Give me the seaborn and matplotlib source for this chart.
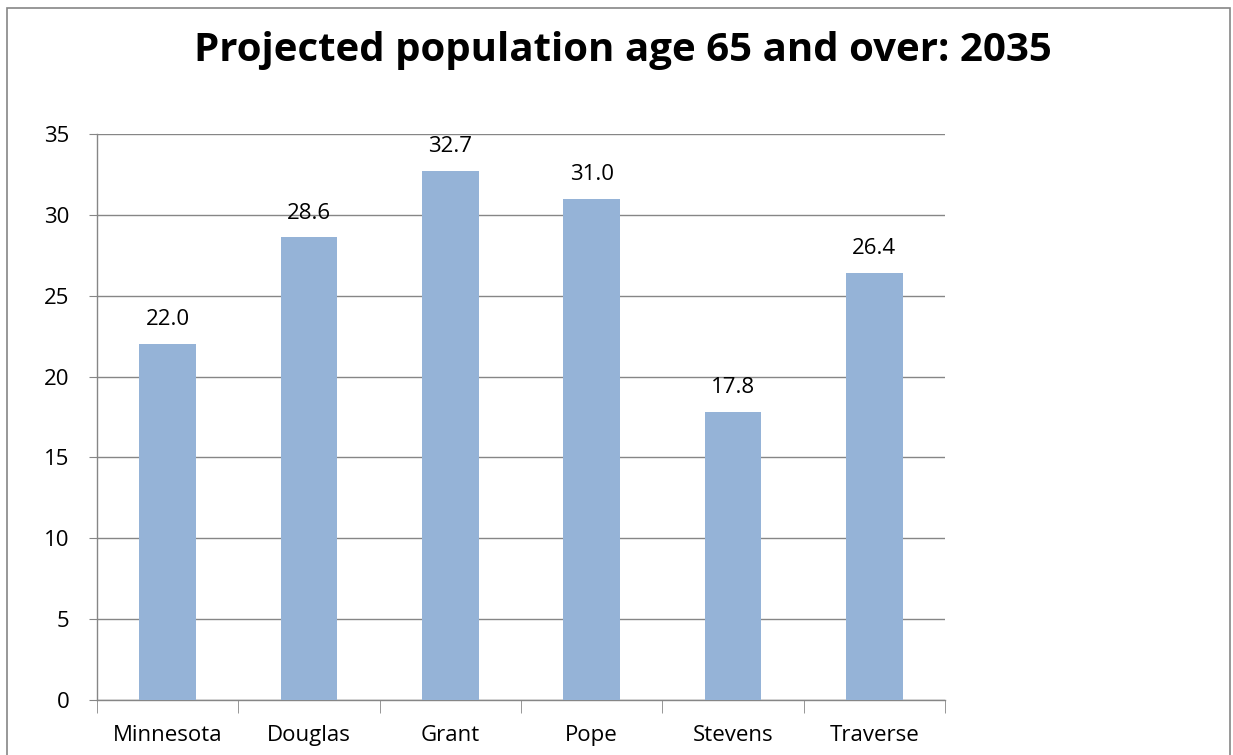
import numpy as np
import pandas as pd
import matplotlib.pyplot as plt
import seaborn as sns
from matplotlib.patches import Rectangle

# === Datos ===
regiones = ["Minnesota", "Douglas", "Grant", "Pope", "Stevens", "Traverse"]
valores = [22.0, 28.6, 32.7, 31.0, 17.8, 26.4]
titulo = "Projected population age 65 and over: 2035"

df = pd.DataFrame({"region": regiones, "valor": valores})

sns.set_style("white")
plt.rcParams["font.family"] = ["Open Sans", "DejaVu Sans"]
plt.rcParams["text.color"] = "black"
plt.rcParams["xtick.color"] = "black"
plt.rcParams["ytick.color"] = "black"

fig = plt.figure(figsize=(12.33, 7.55), dpi=100)
ax = fig.add_axes([97 / 1233, 1 - 700 / 755, 848 / 1233, 566 / 755])

sns.barplot(data=df, x="region", y="valor", color="#95B3D7", saturation=1,
            width=0.4, linewidth=0, ax=ax, zorder=3)

ax.set_ylim(0, 35)
ax.set_xlim(-0.5, len(regiones) - 0.5)
ax.set_yticks(range(0, 36, 5))
ax.grid(axis="y", color="#868686", linewidth=1, zorder=0)
ax.set_axisbelow(True)

for s in ["top", "right"]:
    ax.spines[s].set_visible(False)
for s in ["left", "bottom"]:
    ax.spines[s].set_color("#868686")
    ax.spines[s].set_linewidth(1)

ax.tick_params(axis="y", length=6, color="#868686", labelcolor="black",
               labelsize=16, pad=14, left=True)
ax.tick_params(axis="x", which="major", length=0, labelcolor="black",
               labelsize=16, pad=18)
ax.set_xticks(np.arange(-0.5, len(regiones)), minor=True)
ax.tick_params(axis="x", which="minor", length=9, color="#868686", bottom=True)
ax.set_xlabel("")
ax.set_ylabel("")

for i, v in enumerate(valores):
    ax.annotate(f"{v:.1f}", (i, v), xytext=(0, 10), textcoords="offset points",
                ha="center", va="bottom", fontsize=16, color="black")

fig.text(0.505, 1 - 51 / 755, titulo, ha="center", va="center",
         fontsize=29, fontweight="bold", color="black")

fig.add_artist(Rectangle((7 / 1233, -0.01), 1223 / 1233, 1 - 8 / 755 + 0.01,
                         transform=fig.transFigure, fill=False,
                         edgecolor="#868686", linewidth=1.2))

fig.savefig("out.png", dpi=100)
